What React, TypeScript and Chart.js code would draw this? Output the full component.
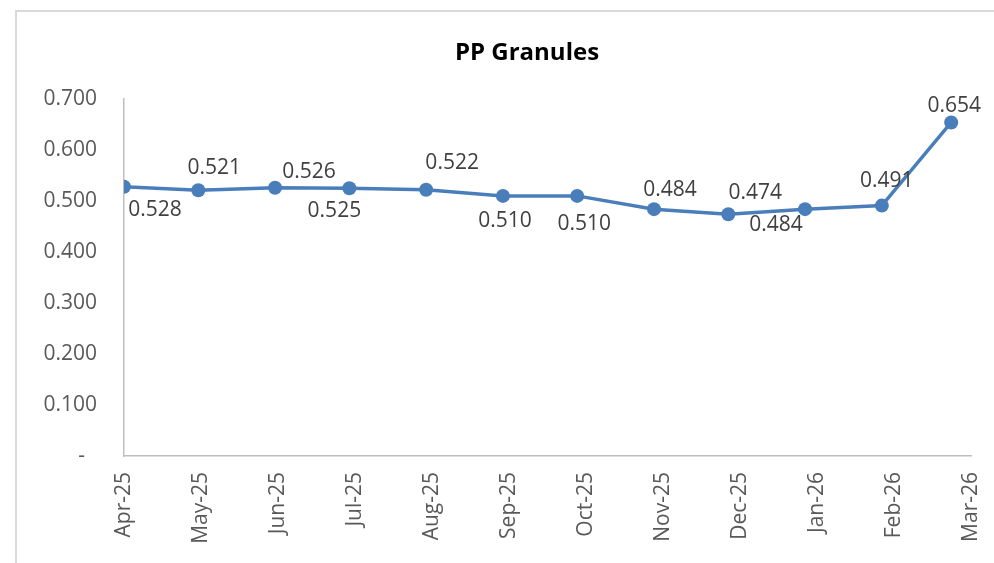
import React, { useEffect, useRef } from "react";
import { Chart, registerables } from "chart.js";

Chart.register(...registerables);

const title = "PP Granules";
const categories = ["Apr-25", "May-25", "Jun-25", "Jul-25", "Aug-25", "Sep-25", "Oct-25", "Nov-25", "Dec-25", "Jan-26", "Feb-26", "Mar-26"];
const pointDates = ["2025-04-01", "2025-05-01", "2025-06-01", "2025-07-01", "2025-08-01", "2025-09-01", "2025-10-01", "2025-11-01", "2025-12-01", "2026-01-01", "2026-02-01", "2026-03-01"];
const values = [0.528, 0.521, 0.526, 0.525, 0.522, 0.51, 0.51, 0.484, 0.474, 0.484, 0.491, 0.654];
const axisStartDate = "2025-04-01";
const axisEndDays = 342;
const yTicks = [0, 0.1, 0.2, 0.3, 0.4, 0.5, 0.6, 0.7];

// label placement (style): offsets of each value label from its point, px
const labelDx = [31, 16, 34, -15, 26, 2, 7, 16, 27, -29, 5, 3];
const labelDy = [22, -24, -17, 21, -28, 24, 27, -21, -23, 14, -26, -18];

const FONT = "'Open Sans', sans-serif";
const DAY = 86400000;
const toDays = (d: string) => (Date.parse(d + "T00:00:00Z") - Date.parse(axisStartDate + "T00:00:00Z")) / DAY;

export default function App() {
  const ref = useRef<HTMLCanvasElement | null>(null);

  useEffect(() => {
    if (!ref.current) return;
    const framePlugin = {
      id: "frame",
      beforeDraw(chart: any) {
        const ctx = chart.ctx;
        ctx.save();
        ctx.fillStyle = "#ffffff";
        ctx.fillRect(0, 0, chart.width, chart.height);
        ctx.strokeStyle = "#d9d9d9";
        ctx.lineWidth = 2;
        ctx.strokeRect(16, 11, 3000, 3000);
        ctx.fillStyle = "#000000";
        ctx.font = `bold 24px ${FONT}`;
        ctx.textAlign = "center";
        ctx.textBaseline = "alphabetic";
        ctx.fillText(title, 527, 60);
        ctx.restore();
      },
    };
    const labelPlugin = {
      id: "valueLabels",
      afterDatasetsDraw(chart: any) {
        const ctx = chart.ctx;
        const meta = chart.getDatasetMeta(0);
        ctx.save();
        ctx.fillStyle = "#404040";
        ctx.font = `21px ${FONT}`;
        ctx.textAlign = "center";
        ctx.textBaseline = "alphabetic";
        meta.data.forEach((pt: any, i: number) => {
          ctx.fillText(values[i].toFixed(3), pt.x + labelDx[i], pt.y + labelDy[i] + 7.5);
        });
        ctx.restore();
      },
    };

    const chart = new Chart(ref.current, {
      type: "line",
      data: {
        labels: categories,
        datasets: [
          {
            data: values.map((v, i) => ({ x: toDays(pointDates[i]), y: v })),
            xAxisID: "xd",
            yAxisID: "y",
            borderColor: "#4a7ebb",
            backgroundColor: "#4a7ebb",
            borderWidth: 3.5,
            pointRadius: 7,
            pointBorderWidth: 0,
            pointBackgroundColor: "#4a7ebb",
            tension: 0,
          },
        ],
      },
      options: {
        animation: false,
        responsive: true,
        maintainAspectRatio: false,
        layout: { padding: { top: 99, right: 23, left: 0, bottom: 0 } },
        plugins: { legend: { display: false }, tooltip: { enabled: false }, title: { display: false } },
        scales: {
          x: {
            type: "category",
            offset: false,
            grid: { display: false, drawTicks: false },
            border: { display: true, color: "#bfbfbf", width: 1.5 },
            ticks: {
              autoSkip: false,
              minRotation: 90,
              maxRotation: 90,
              padding: 16,
              color: "#595959",
              font: { family: FONT, size: 21 },
            },
            afterFit: (s: any) => {
              s.height = 107;
              s.paddingLeft = 0;
              s.paddingRight = 0;
            },
          },
          xd: {
            type: "linear",
            display: false,
            min: 0,
            max: axisEndDays,
          },
          y: {
            type: "linear",
            min: 0,
            max: 0.7,
            grid: { display: false, drawTicks: false },
            border: { display: true, color: "#bfbfbf", width: 1.5 },
            afterBuildTicks: (s: any) => {
              s.ticks = yTicks.map((v) => ({ value: v }));
            },
            ticks: {
              padding: 27,
              color: "#595959",
              font: { family: FONT, size: 21 },
              callback: (v: any) => (Number(v) === 0 ? "-\u2007" : Number(v).toFixed(3)),
            },
            afterFit: (s: any) => {
              s.width = 124;
              s.paddingTop = 0;
              s.paddingBottom = 0;
            },
          },
        },
      },
      plugins: [framePlugin, labelPlugin],
    } as any);
    return () => chart.destroy();
  }, []);

  return (
    <div style={{ position: "fixed", left: 0, top: 0, width: 994, height: 563, background: "#fff" }}>
      <canvas ref={ref} />
    </div>
  );
}
